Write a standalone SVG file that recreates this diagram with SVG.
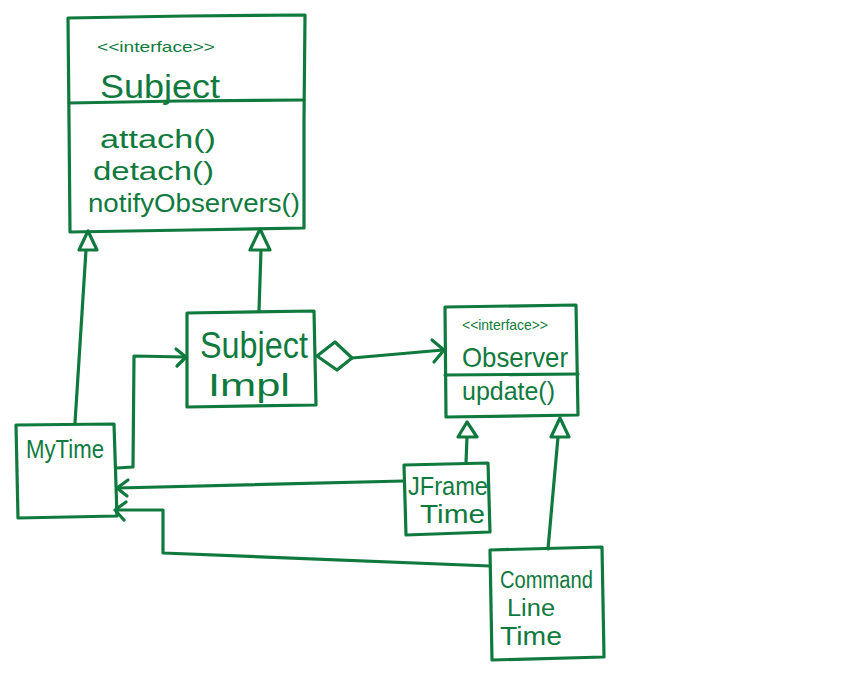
<svg xmlns="http://www.w3.org/2000/svg" width="860" height="675" viewBox="0 0 860 675">
  <style>
    .ink { fill: none; stroke: #107a3e; stroke-width: 3.2; stroke-linecap: round; stroke-linejoin: round; }
    .hollow { fill: #ffffff; stroke: #107a3e; stroke-width: 3.2; stroke-linejoin: round; }
    .txt { fill: #107a3e; font-family: "Liberation Sans", Arial, sans-serif; }
    .stereo { fill: #107a3e; font-family: "Liberation Sans", Arial, sans-serif; font-size: 15px; }
  </style>
  <rect width="860" height="675" fill="#ffffff"/>

  <!-- Subject interface -->
  <g id="subject">
    <path class="ink" d="M68,18 L186,16 L305,15 L304,120 L304,228 L190,230 L70,232 L69,120 Z"/>
    <path class="ink" d="M69,103 L180,101 L304,100"/>
    <text class="stereo" x="97" y="52" textLength="118" lengthAdjust="spacingAndGlyphs">&lt;&lt;interface&gt;&gt;</text>
    <text class="txt" x="100" y="98" font-size="34" textLength="120" lengthAdjust="spacingAndGlyphs">Subject</text>
    <text class="txt" x="100" y="148" font-size="26" textLength="116" lengthAdjust="spacingAndGlyphs">attach()</text>
    <text class="txt" x="93" y="180" font-size="26" textLength="121" lengthAdjust="spacingAndGlyphs">detach()</text>
    <text class="txt" x="88" y="212" font-size="26" textLength="212" lengthAdjust="spacingAndGlyphs">notifyObservers()</text>
  </g>

  <!-- SubjectImpl -->
  <g id="subject-impl">
    <path class="ink" d="M187,313 L314,311 L316,405 L187,407 Z"/>
    <text class="txt" x="200" y="358" font-size="36" textLength="108" lengthAdjust="spacingAndGlyphs">Subject</text>
    <text class="txt" x="208" y="396" font-size="32" textLength="82" lengthAdjust="spacingAndGlyphs">Impl</text>
  </g>

  <!-- Observer interface -->
  <g id="observer">
    <path class="ink" d="M445,307 L576,305 L578,415 L446,417 Z"/>
    <path class="ink" d="M445,375 L578,374"/>
    <text class="stereo" x="462" y="330" font-size="13" textLength="86" lengthAdjust="spacingAndGlyphs">&lt;&lt;interface&gt;&gt;</text>
    <text class="txt" x="462" y="367" font-size="28" textLength="106" lengthAdjust="spacingAndGlyphs">Observer</text>
    <text class="txt" x="462" y="400" font-size="25" textLength="93" lengthAdjust="spacingAndGlyphs">update()</text>
  </g>

  <!-- MyTime -->
  <g id="my-time">
    <path class="ink" d="M16,425 L114,424 L117,516 L18,518 Z"/>
    <text class="txt" x="26" y="458" font-size="25" textLength="78" lengthAdjust="spacingAndGlyphs">MyTime</text>
  </g>

  <!-- JFrameTime -->
  <g id="jframe-time">
    <path class="ink" d="M404,465 L488,463 L490,532 L406,535 Z"/>
    <text class="txt" x="408" y="495" font-size="26" textLength="80" lengthAdjust="spacingAndGlyphs">JFrame</text>
    <text class="txt" x="420" y="523" font-size="26" textLength="65" lengthAdjust="spacingAndGlyphs">Time</text>
  </g>

  <!-- CommandLineTime -->
  <g id="command-line-time">
    <path class="ink" d="M490,550 L602,547 L604,657 L492,660 Z"/>
    <text class="txt" x="500" y="588" font-size="23" textLength="93" lengthAdjust="spacingAndGlyphs">Command</text>
    <text class="txt" x="507" y="616" font-size="23" textLength="48" lengthAdjust="spacingAndGlyphs">Line</text>
    <text class="txt" x="500" y="645" font-size="25" textLength="62" lengthAdjust="spacingAndGlyphs">Time</text>
  </g>

  <!-- Connectors -->
  <g id="connectors">
    <!-- realisation: MyTime to Subject -->
    <path class="ink" d="M75,423 L86,250"/>
    <path class="hollow" d="M88,231 L79,250 L97,250 Z"/>
    <!-- realisation: SubjectImpl to Subject -->
    <path class="ink" d="M259,311 L261,250"/>
    <path class="hollow" d="M260,229 L250,250 L270,250 Z"/>
    <!-- MyTime uses SubjectImpl -->
    <path class="ink" d="M117,468 L133,467 L134,356 L185,357"/>
    <path class="ink" d="M176,349 L186,357 L177,366"/>
    <!-- aggregation: SubjectImpl holds Observers -->
    <path class="hollow" d="M317,356 L335,342 L352,358 L337,370 Z"/>
    <path class="ink" d="M352,358 L443,350"/>
    <path class="ink" d="M432,340 L444,350 L434,362"/>
    <!-- realisation: JFrameTime to Observer -->
    <path class="ink" d="M466,463 L467,437"/>
    <path class="hollow" d="M467,422 L458,437 L477,437 Z"/>
    <!-- realisation: CommandLineTime to Observer -->
    <path class="ink" d="M548,549 L558,437"/>
    <path class="hollow" d="M560,418 L551,437 L569,437 Z"/>
    <!-- JFrameTime to MyTime -->
    <path class="ink" d="M404,481 L118,488"/>
    <path class="ink" d="M128,480 L117,488 L127,496"/>
    <!-- CommandLineTime to MyTime -->
    <path class="ink" d="M490,566 L163,553 L163,510 L116,510"/>
    <path class="ink" d="M126,502 L115,510 L124,520"/>
  </g>
</svg>
